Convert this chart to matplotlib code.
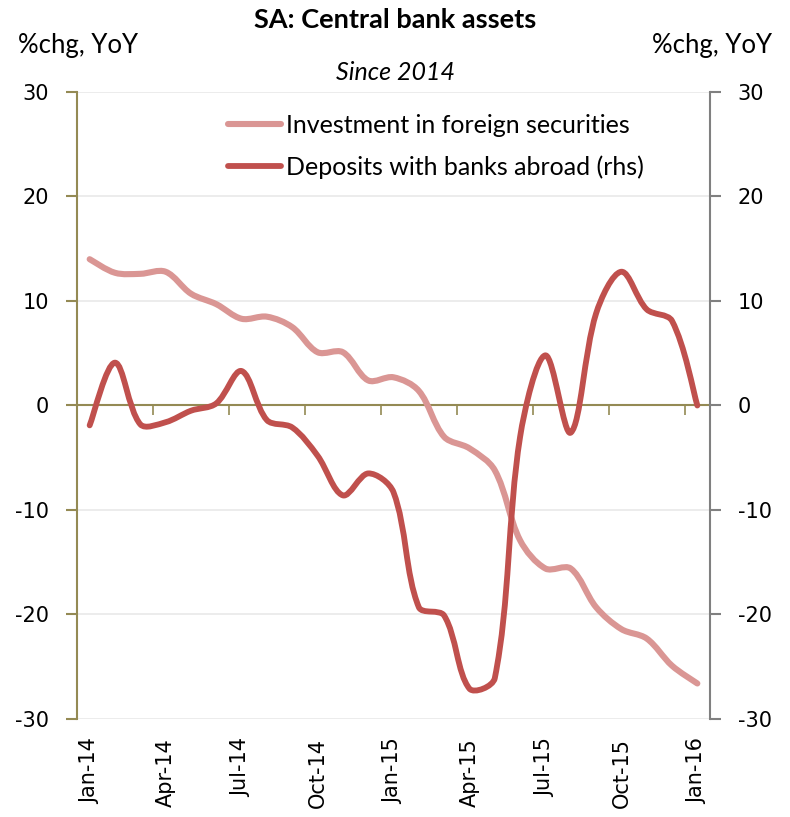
import numpy as np
import matplotlib
matplotlib.use('Agg')
from matplotlib import pyplot as plt
from matplotlib.path import Path
from matplotlib.patches import PathPatch
from matplotlib.lines import Line2D

plt.rcParams['axes.unicode_minus'] = False

months = ['Jan-14', 'Feb-14', 'Mar-14', 'Apr-14', 'May-14', 'Jun-14', 'Jul-14', 'Aug-14',
          'Sep-14', 'Oct-14', 'Nov-14', 'Dec-14', 'Jan-15', 'Feb-15', 'Mar-15', 'Apr-15',
          'May-15', 'Jun-15', 'Jul-15', 'Aug-15', 'Sep-15', 'Oct-15', 'Nov-15', 'Dec-15',
          'Jan-16']
# %chg YoY
foreign_securities = [14.0, 12.7, 12.6, 12.8, 10.7, 9.7, 8.3, 8.5, 7.5, 5.1, 5.1, 2.4, 2.7,
                      1.4, -3.0, -4.1, -6.2, -12.9, -15.6, -15.6, -19.3, -21.4, -22.3, -24.9, -26.6]
deposits_abroad = [-1.9, 4.1, -1.8, -1.6, -0.5, 0.2, 3.3, -1.4, -2.1, -4.8, -8.6, -6.5, -8.3,
                   -19.3, -20.1, -27.1, -26.1, -3.0, 4.8, -2.6, 8.8, 12.8, 9.2, 8.1, 0.0]

PINK = '#DA9694'
RED = '#C0504D'
OLIVE = '#948A54'
GREY = '#808080'
GRID = '#EBEBEB'
TXT_FONT = ['Lato', 'DejaVu Sans']


def smooth_path(ax, x, y):
    # bezier "smoothed line"; tangents are weighted by on-screen segment
    # lengths so a short segment next to a long one doesn't overshoot
    pts = np.column_stack([x, y]).astype(float)
    pix = ax.transData.transform(pts)
    n = len(pts)
    verts = [pts[0]]
    codes = [Path.MOVETO]
    for i in range(n - 1):
        i0, i3 = max(i - 1, 0), min(i + 2, n - 1)
        d01 = np.hypot(*(pix[i] - pix[i0]))
        d12 = np.hypot(*(pix[i + 1] - pix[i]))
        d23 = np.hypot(*(pix[i3] - pix[i + 1]))
        f1 = d12 / (d01 + d12) if d01 > 0 else 0.5
        f2 = d12 / (d12 + d23) if d23 > 0 else 0.5
        c1 = pts[i] + (pts[i + 1] - pts[i0]) * f1 / 3
        c2 = pts[i + 1] - (pts[i3] - pts[i]) * f2 / 3
        verts += [c1, c2, pts[i + 1]]
        codes += [Path.CURVE4] * 3
    return Path(verts, codes)


fig = plt.figure(figsize=(7.9, 8.17), dpi=100)
ax = fig.add_axes([77 / 790, 1 - 719 / 817, (710 - 77) / 790, (719 - 92) / 817])
ax2 = ax.twinx()

for a in (ax, ax2):
    a.set_xlim(-0.5, len(months) - 0.5)
    a.set_ylim(-30, 30)
    a.set_yticks(np.arange(-30, 31, 10))
    a.spines['top'].set_visible(False)

x = np.arange(len(months))
ax.add_patch(PathPatch(smooth_path(ax, x, foreign_securities), facecolor='none', edgecolor=PINK,
                       lw=4.4, capstyle='round', joinstyle='round', zorder=3))
ax2.add_patch(PathPatch(smooth_path(ax2, x, deposits_abroad), facecolor='none', edgecolor=RED,
                        lw=4.2, capstyle='round', joinstyle='round', zorder=3))

ax.yaxis.grid(True, color=GRID, lw=1.3)
ax.set_axisbelow(True)

# left axis
ax.spines['left'].set_color(OLIVE)
ax.spines['left'].set_linewidth(1.5)
ax.spines['right'].set_visible(False)
ax.tick_params(axis='y', direction='out', length=8, width=1.5, color=OLIVE,
               labelsize=15, pad=12, labelcolor='black')

# category axis crosses at zero
ax.spines['bottom'].set_position(('data', 0))
ax.spines['bottom'].set_color(OLIVE)
ax.spines['bottom'].set_linewidth(1.5)
ax.set_xticks(np.arange(-0.5, len(months) - 1, 3), minor=True)
ax.set_xticks([])
ax.tick_params(axis='x', which='minor', direction='out', length=7, width=1.2, color=OLIVE)

# right axis
ax2.spines['left'].set_visible(False)
ax2.spines['bottom'].set_visible(False)
ax2.spines['right'].set_color(GREY)
ax2.spines['right'].set_linewidth(1.5)
ax2.tick_params(axis='y', direction='out', length=8, width=1.5, color=GREY,
                labelsize=15, pad=12)
ax2.set_xticks([])

# date labels sit below the plot
sec = ax.secondary_xaxis(0)
sec.set_xticks(x[::3], [months[i] for i in x[::3]], rotation=90)
sec.tick_params(length=0, labelsize=15, pad=14)
sec.spines['bottom'].set_visible(False)

fig.text(0.5, 1 - 20 / 817, 'SA: Central bank assets', ha='center', va='center',
         fontsize=19.5, fontweight='bold', family=TXT_FONT)
fig.text(0.5, 1 - 72 / 817, 'Since 2014', ha='center', va='center',
         fontsize=18, style='italic', family=TXT_FONT)
fig.text(18 / 790, 1 - 45 / 817, '%chg, YoY', ha='left', va='center', fontsize=18.5, family=TXT_FONT)
fig.text(772 / 790, 1 - 45 / 817, '%chg, YoY', ha='right', va='center', fontsize=18.5, family=TXT_FONT)

handles = [Line2D([], [], color=PINK, lw=4.4, solid_capstyle='round'),
           Line2D([], [], color=RED, lw=4.2, solid_capstyle='round')]
fig.legend(handles, ['Investment in foreign securities', 'Deposits with banks abroad (rhs)'],
           loc='upper left', bbox_to_anchor=(228 / 790, 1 - 114 / 817), frameon=False,
           prop={'family': TXT_FONT, 'size': 18}, handlelength=2.1, handletextpad=0.2,
           labelspacing=0.72, borderaxespad=0, borderpad=0)

fig.savefig('out.png', dpi=100)
